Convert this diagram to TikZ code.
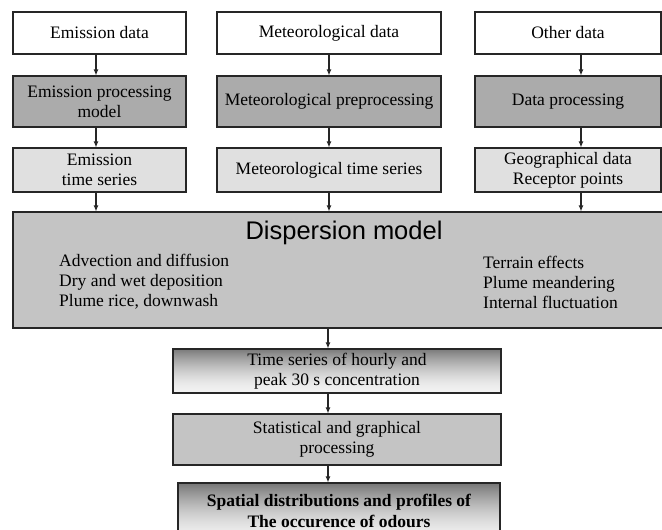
\documentclass[tikz,border=0pt]{standalone}
\usepackage{fontspec}
\setmainfont{Liberation Serif}
\newfontfamily\titlefont{Liberation Sans}
\usetikzlibrary{arrows.meta,calc}
\definecolor{gdark}{HTML}{ABABAB}
\definecolor{glight}{HTML}{E0E0E0}
\definecolor{gmid}{HTML}{C4C4C4}
\tikzset{
  base/.style={draw=black!85, line width=1.1pt, inner sep=0pt, align=center,
    font=\fontsize{17.5}{20}\selectfont},
  wbox/.style={base, fill=white},
  dbox/.style={base, fill=gdark},
  lbox/.style={base, fill=glight},
  mbox/.style={base, fill=gmid},
  gbox/.style={base},
  arr/.style={draw=black!85, line width=1.1pt, -{Latex[length=6pt,width=5pt]}},
  txt/.style={inner sep=0pt, align=left, font=\fontsize{17.5}{20}\selectfont},
}
\begin{document}
\begin{tikzpicture}[x=1pt,y=-1pt]
\useasboundingbox (0,0) rectangle (662,530);
\fill[white] (0,0) rectangle (662,530);
% columns
\coordinate (c1) at (96,0);
\coordinate (c2) at (329,0);
\coordinate (c3) at (581,0);
\coordinate (cm) at (328,0);
% row 1
\node[wbox, minimum width=173pt, minimum height=42pt] (ed) at (99.5,33) {Emission data};
\node[wbox, minimum width=224pt, minimum height=42pt] (md) at (329,33) {Meteorological data};
\node[wbox, minimum width=186pt, minimum height=42pt] (od) at (568,33) {Other data};
% row 2
\node[dbox, minimum width=173pt, minimum height=51pt] (ep) at (99.5,101.5) {Emission processing\\model};
\node[dbox, minimum width=224pt, minimum height=51pt] (mp) at (329,101.5) {Meteorological preprocessing};
\node[dbox, minimum width=186pt, minimum height=51pt] (op) at (568,101.5) {Data processing};
% row 3
\node[lbox, minimum width=173pt, minimum height=44pt] (et) at (99.5,170) {Emission\\time series};
\node[lbox, minimum width=224pt, minimum height=44pt] (mt) at (329,170) {Meteorological time series};
\node[lbox, minimum width=186pt, minimum height=44pt] (ot) at (568,170) {Geographical data\\Receptor points};
% dispersion
\node[mbox, minimum width=652pt, minimum height=116pt] (dm) at (339,270) {};
\node[inner sep=0pt, font=\titlefont\fontsize{25.5}{28}\selectfont] (dt) at (344,233) {Dispersion model};
\node[txt, anchor=west] (dl) at (59,282) {Advection and diffusion\\Dry and wet deposition\\Plume rice, downwash};
\node[txt, anchor=west] (dr) at (483,282) {Terrain effects\\Plume meandering\\Internal fluctuation};
% gradient backgrounds (dark at top, light at bottom)
\foreach \i in {0,...,43} {
  \pgfmathsetmacro\p{5+47*(1-\i/43)^1.6}
  \fill[black!\p] (173,349+\i) rectangle (501,350.3+\i);
}
\foreach \i in {0,...,55} {
  \pgfmathsetmacro\p{6+48*(1-\i/55)^1.6}
  \fill[black!\p] (178,483+\i) rectangle (500,484.3+\i);
}
% lower chain
\node[gbox, minimum width=328pt, minimum height=44pt] (ts) at (337,371) {Time series of hourly and\\peak 30 s concentration};
\node[mbox, minimum width=328pt, minimum height=51pt] (sg) at (337,439.5) {Statistical and graphical\\processing};
\node[gbox, minimum width=322pt, minimum height=56pt, font=\bfseries\fontsize{17.5}{21}\selectfont] (sd) at (339,511) {Spatial distributions and profiles of\\The occurence of odours};
% arrows
\draw[arr] (ed.south -| c1) -- (ep.north -| c1);
\draw[arr] (ep.south -| c1) -- (et.north -| c1);
\draw[arr] (et.south -| c1) -- (dm.north -| c1);
\draw[arr] (md.south -| c2) -- (mp.north -| c2);
\draw[arr] (mp.south -| c2) -- (mt.north -| c2);
\draw[arr] (mt.south -| c2) -- (dm.north -| c2);
\draw[arr] (od.south -| c3) -- (op.north -| c3);
\draw[arr] (op.south -| c3) -- (ot.north -| c3);
\draw[arr] (ot.south -| c3) -- (dm.north -| c3);
\draw[arr] (dm.south -| cm) -- (ts.north -| cm);
\draw[arr] (ts.south -| cm) -- (sg.north -| cm);
\draw[arr] (sg.south -| cm) -- (sd.north -| cm);
\end{tikzpicture}
\end{document}
